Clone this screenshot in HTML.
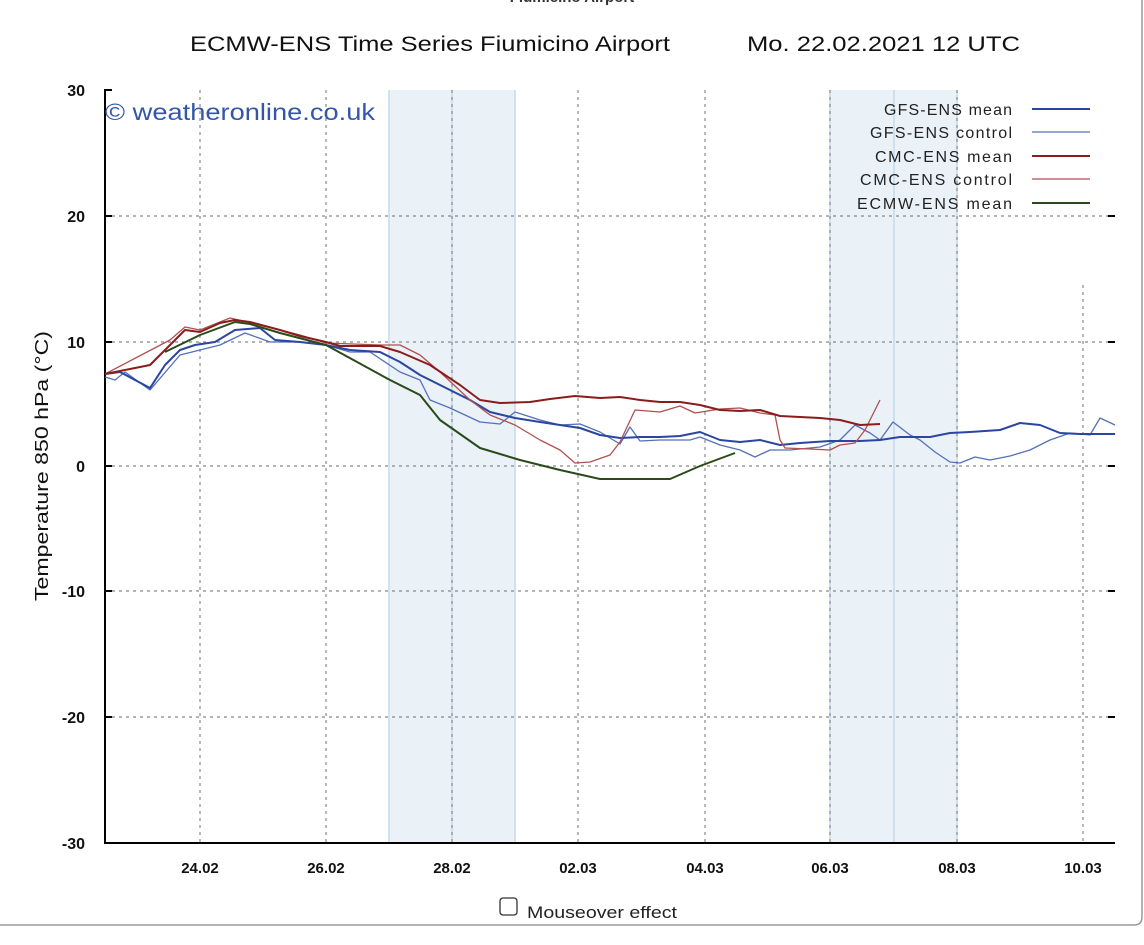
<!DOCTYPE html>
<html><head><meta charset="utf-8"><style>
body{margin:0;background:#fff;width:1144px;height:940px;overflow:hidden;font-family:"Liberation Sans",sans-serif}
</style></head><body>
<svg width="1144" height="940" xmlns="http://www.w3.org/2000/svg" font-family="Liberation Sans, sans-serif">
<text x="572" y="2" text-anchor="middle" font-size="15" font-weight="bold" fill="#333">Fiumicino Airport</text>
<text x="190" y="51" font-size="21" fill="#111" textLength="480" lengthAdjust="spacingAndGlyphs">ECMW-ENS Time Series Fiumicino Airport</text>
<text x="747" y="51" font-size="21" fill="#111" textLength="273" lengthAdjust="spacingAndGlyphs">Mo. 22.02.2021 12 UTC</text>
<rect x="389" y="90" width="126" height="753" fill="#eaf2f8"/>
<rect x="830" y="90" width="127" height="753" fill="#eaf2f8"/>
<g stroke="#c5d9ec" stroke-width="1.5"><line x1="389" y1="90" x2="389" y2="843"/><line x1="452" y1="90" x2="452" y2="843"/><line x1="515" y1="90" x2="515" y2="843"/><line x1="830" y1="90" x2="830" y2="843"/><line x1="894" y1="90" x2="894" y2="843"/><line x1="957" y1="90" x2="957" y2="843"/></g>
<g stroke="#888" stroke-width="1.2" stroke-dasharray="3,4">
<line x1="105" y1="216" x2="1115" y2="216"/><line x1="105" y1="342" x2="1115" y2="342"/><line x1="105" y1="466" x2="1115" y2="466"/><line x1="105" y1="591" x2="1115" y2="591"/><line x1="105" y1="717" x2="1115" y2="717"/>
<line x1="200" y1="90" x2="200" y2="843"/><line x1="326" y1="90" x2="326" y2="843"/><line x1="452" y1="90" x2="452" y2="843"/><line x1="578" y1="90" x2="578" y2="843"/><line x1="705" y1="90" x2="705" y2="843"/><line x1="830" y1="90" x2="830" y2="843"/><line x1="957" y1="90" x2="957" y2="843"/><line x1="1083" y1="285" x2="1083" y2="843"/>
</g>
<g stroke="#000" stroke-width="2"><line x1="105" y1="89" x2="105" y2="844"/><line x1="104" y1="843" x2="1115" y2="843"/></g>
<g stroke="#000" stroke-width="2"><line x1="105" y1="90" x2="112" y2="90"/><line x1="105" y1="216" x2="112" y2="216"/><line x1="105" y1="342" x2="112" y2="342"/><line x1="105" y1="466" x2="112" y2="466"/><line x1="105" y1="591" x2="112" y2="591"/><line x1="105" y1="717" x2="112" y2="717"/>
<line x1="1108" y1="216" x2="1115" y2="216"/><line x1="1108" y1="342" x2="1115" y2="342"/><line x1="1108" y1="466" x2="1115" y2="466"/><line x1="1108" y1="591" x2="1115" y2="591"/><line x1="1108" y1="717" x2="1115" y2="717"/></g>
<g font-size="16" font-weight="bold" text-anchor="end" fill="#111">
<text x="85" y="96">30</text><text x="85" y="222">20</text><text x="85" y="348">10</text><text x="85" y="472">0</text><text x="85" y="597">-10</text><text x="85" y="723">-20</text><text x="85" y="849">-30</text></g>
<g font-size="15" font-weight="bold" text-anchor="middle" fill="#111">
<text x="200" y="873">24.02</text><text x="326" y="873">26.02</text><text x="452" y="873">28.02</text><text x="578" y="873">02.03</text><text x="705" y="873">04.03</text><text x="830" y="873">06.03</text><text x="957" y="873">08.03</text><text x="1083" y="873">10.03</text></g>
<text transform="translate(48,601) rotate(-90)" font-size="18" fill="#111" textLength="270" lengthAdjust="spacingAndGlyphs">Temperature 850 hPa (°C)</text>
<text x="105" y="120" font-size="23" fill="#3355aa" textLength="270" lengthAdjust="spacingAndGlyphs">© weatheronline.co.uk</text>
<g fill="none" stroke-linejoin="round">
<polyline stroke="#5570b8" stroke-width="1.3" points="105,377 115,380 125,372 150,390 180,355 200,350 220,345 245,333 270,342 300,342 326,345 350,352 370,352 400,372 420,380 430,400 450,408 480,422 500,424 515,412 540,420 560,425 580,424 600,432 620,444 630,427 640,441 660,440 690,440 700,437 720,445 740,450 755,457 770,450 790,450 820,447 840,440 855,425 870,433 880,440 893,422 910,435 920,440 935,452 950,462 960,463 975,457 990,460 1010,456 1030,450 1050,440 1070,433 1090,435 1100,418 1115,425"/>
<polyline stroke="#2a46a0" stroke-width="2" points="105,374 120,372 135,380 150,388 165,365 180,350 195,345 215,342 235,330 260,328 275,340 300,342 326,345 350,350 380,352 400,362 420,375 440,385 470,400 490,412 515,418 540,422 560,425 580,428 600,435 620,438 640,437 660,437 680,436 700,432 720,440 740,442 760,440 780,445 800,443 830,441 860,441 880,440 900,437 930,437 950,433 970,432 1000,430 1020,423 1040,425 1060,433 1080,434 1115,434"/>
<polyline stroke="#b05050" stroke-width="1.3" points="105,374 170,340 185,327 200,330 230,318 260,325 300,335 326,343 380,345 400,345 420,355 440,372 470,400 490,415 515,425 540,440 560,450 575,463 590,462 610,455 620,442 635,410 660,412 680,406 695,413 720,409 740,408 760,413 775,415 780,440 785,448 810,449 830,450 840,445 855,443 865,430 880,400"/>
<polyline stroke="#8a1c1c" stroke-width="2" points="105,374 130,369 150,365 170,345 185,330 200,332 220,323 235,320 250,322 280,330 300,336 326,342 340,346 380,346 400,352 430,365 460,385 480,400 500,403 530,402 550,399 575,396 600,398 620,397 640,400 660,402 680,402 700,405 720,410 740,411 760,410 780,416 800,417 820,418 840,420 860,425 880,424"/>
<polyline stroke="#2a4a1a" stroke-width="2" points="165,352 200,335 235,322 250,324 280,333 326,345 390,380 420,395 440,420 480,448 520,460 560,470 600,479 640,479 670,479 700,466 735,453"/>
</g>
<g font-size="16" fill="#222" lengthAdjust="spacingAndGlyphs">
<text x="884" y="115" textLength="128">GFS-ENS mean</text><text x="870" y="138" textLength="142">GFS-ENS control</text><text x="875" y="162" textLength="137">CMC-ENS mean</text><text x="860" y="185" textLength="152">CMC-ENS control</text><text x="857" y="209" textLength="155">ECMW-ENS mean</text></g>
<g stroke-width="2"><line x1="1032" y1="109" x2="1090" y2="109" stroke="#2a46a0"/><line x1="1032" y1="132" x2="1090" y2="132" stroke="#5570b8" stroke-width="1.3"/><line x1="1032" y1="156" x2="1090" y2="156" stroke="#8a1c1c"/><line x1="1032" y1="179" x2="1090" y2="179" stroke="#b05050" stroke-width="1.3"/><line x1="1032" y1="203" x2="1090" y2="203" stroke="#2a4a1a"/></g>
<rect x="500" y="898" width="17" height="17" rx="3" fill="#fff" stroke="#333" stroke-width="1.3"/>
<text x="527" y="918" font-size="17" fill="#222" textLength="150" lengthAdjust="spacingAndGlyphs">Mouseover effect</text>
<path d="M0,925 L1134,925 Q1142,925 1142,917 L1142,0" fill="none" stroke="#999" stroke-width="1.5"/>
</svg>
</body></html>
